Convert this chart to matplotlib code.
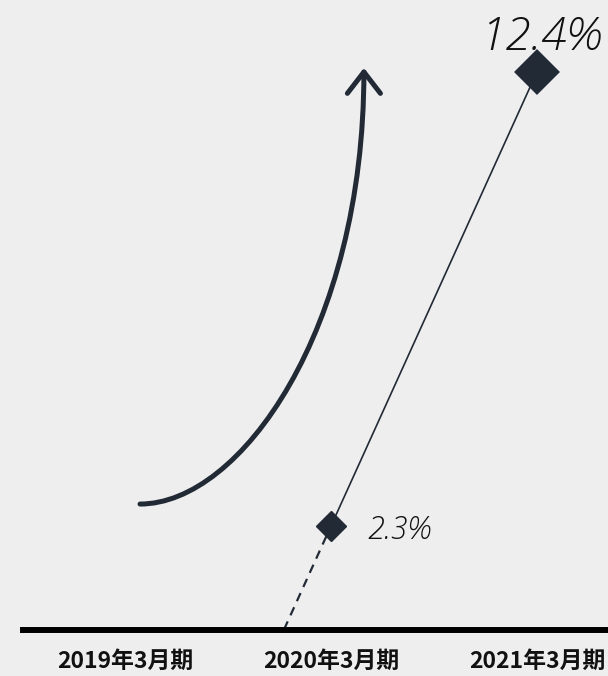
import matplotlib
matplotlib.use("Agg")
import matplotlib.pyplot as plt
from matplotlib.patches import FancyArrowPatch
from matplotlib.path import Path

# data
periods = ["2019年3月期", "2020年3月期", "2021年3月期"]
x_pos = [1, 2]
values = [2.3, 12.4]
value_labels = ["2.3%", "12.4%"]

ink = "#222a36"
bg = "#eeeeee"

fig = plt.figure(figsize=(6.08, 6.76), dpi=100, facecolor=bg)
ax = fig.add_axes([23 / 608, 46.5 / 676, 585 / 608, 629.5 / 676])
ax.set_facecolor(bg)
ax.set_xlim(-0.495, 2.345)
ax.set_ylim(0, 14.0)

for s in ["top", "left", "right"]:
    ax.spines[s].set_visible(False)
ax.spines["bottom"].set_linewidth(4.3)
ax.spines["bottom"].set_color("black")
ax.set_yticks([])
ax.set_xticks(range(len(periods)))
ax.set_xticklabels(periods, fontsize=16.5, fontweight="bold",
                   family=["Noto Sans CJK JP", "DejaVu Sans"], color="#111111")
ax.tick_params(axis="x", length=0, pad=15)

# dashed extension back to the baseline
slope = (values[1] - values[0]) / (x_pos[1] - x_pos[0])
x_zero = x_pos[0] - values[0] / slope
ax.plot([x_zero, x_pos[0]], [0, values[0]], color=ink, lw=1.6, ls=(0, (4, 3)),
        clip_on=False, zorder=2)
ax.plot(x_pos, values, color=ink, lw=1.2, zorder=2)

# diamonds
ax.plot(x_pos[0], values[0], marker="D", ms=15, color=ink, mew=1,
        zorder=3, clip_on=False)
ax.plot(x_pos[1], values[1], marker="D", ms=20, color=ink, mew=3,
        markeredgecolor=ink, zorder=3, clip_on=False)
for ln in ax.lines[-2:]:
    ln.set_solid_joinstyle("round")

pct_font = dict(family="Open Sans", fontweight=300, style="italic",
                color="#111111")
ax.annotate(value_labels[0], (x_pos[0], values[0]), xytext=(26, -3),
            textcoords="offset points", ha="left", va="center",
            fontsize=22, **pct_font)
ax.annotate(value_labels[1], (x_pos[1], values[1]), xytext=(3, 8),
            textcoords="offset points", ha="center", va="bottom",
            fontsize=33, annotation_clip=False, **pct_font)

# growth arrow
curve = Path([(0.073, 2.79), (0.56, 2.79), (1.16, 6.66), (1.16, 12.49)],
             [Path.MOVETO, Path.CURVE4, Path.CURVE4, Path.CURVE4])
arrow = FancyArrowPatch(path=curve,
                        arrowstyle="->,head_length=1.1,head_width=0.85",
                        lw=3.6, color=ink, capstyle="round",
                        joinstyle="round", mutation_scale=14)
ax.add_patch(arrow)

fig.savefig("out.png", dpi=100, facecolor=bg)
